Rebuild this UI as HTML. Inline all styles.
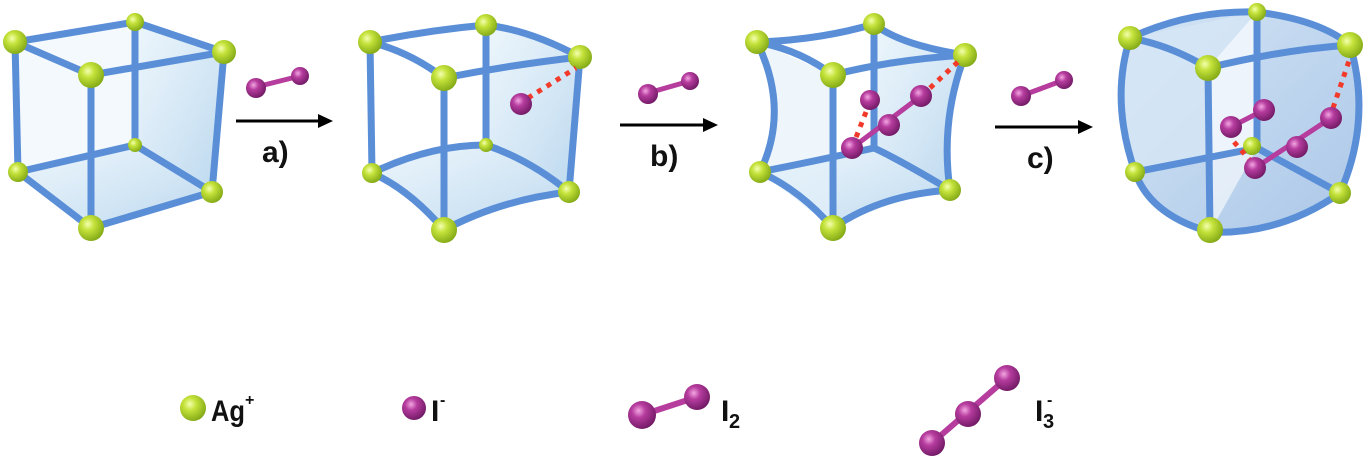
<!DOCTYPE html>
<html><head><meta charset="utf-8"><style>
html,body{margin:0;padding:0;background:#fff;}
svg{display:block;}
text{font-family:"Liberation Sans",Arial,sans-serif;font-weight:bold;fill:#111;}
</style></head><body>
<svg width="1367" height="462" viewBox="0 0 1367 462" xmlns="http://www.w3.org/2000/svg">
<defs>
<radialGradient id="ag" cx="0.38" cy="0.35" r="0.7"><stop offset="0" stop-color="#f4ffb0"/><stop offset="0.35" stop-color="#c4e23a"/><stop offset="1" stop-color="#7fa614"/></radialGradient>
<radialGradient id="io" cx="0.38" cy="0.35" r="0.7"><stop offset="0" stop-color="#f3a6e2"/><stop offset="0.35" stop-color="#b63c9e"/><stop offset="1" stop-color="#6e1862"/></radialGradient>
<linearGradient id="face" x1="0" y1="0" x2="1" y2="1"><stop offset="0" stop-color="#d9ecf8" stop-opacity="0.5"/><stop offset="1" stop-color="#a9cdea" stop-opacity="0.8"/></linearGradient>
<linearGradient id="face4" x1="0" y1="0" x2="1" y2="1"><stop offset="0" stop-color="#c6ddf2"/><stop offset="1" stop-color="#8fb4e0"/></linearGradient>
</defs>

<!-- Cube 1 -->
<g>
<path d="M135,22 L224,52 L212,192 L135,145 Z" fill="url(#face)"/>
<path d="M18,172 L135,145 L212,192 L91,228 Z" fill="url(#face)"/>
<path d="M15,42 L135,22 L135,145 L18,172 Z" fill="#e8f3fb" opacity="0.5"/>
<g stroke="#5a8fd8" stroke-width="7" fill="none" stroke-linecap="round">
<path d="M135,22 L135,145 M18,172 L135,145 L212,192"/>
<path d="M15,42 L135,22 L224,52 L91,75 Z M15,42 L18,172 L91,228 L212,192 L224,52 M91,75 L91,228"/>
</g>
<g fill="url(#ag)"><circle cx="135" cy="22" r="9"/><circle cx="135" cy="145" r="7"/><circle cx="15" cy="42" r="12"/><circle cx="224" cy="52" r="12"/><circle cx="91" cy="75" r="13"/><circle cx="18" cy="172" r="10"/><circle cx="212" cy="192" r="11"/><circle cx="91" cy="228" r="13"/></g>
</g>
<!-- Arrow a -->
<line x1="236" y1="121" x2="322" y2="121" stroke="#000" stroke-width="3"/><path d="M333,121 L318,114 L318,128 Z" fill="#000"/>
<text x="262" y="162" font-size="30">a)</text>
<line x1="256" y1="87" x2="300" y2="76" stroke="#b63c9e" stroke-width="5"/><circle cx="256" cy="88" r="10" fill="url(#io)"/><circle cx="300" cy="76" r="9" fill="url(#io)"/>

<!-- Cube 2 -->
<g>
<path d="M486,25 Q530,30 580,57 L569,192 Q520,160 486,145 Z" fill="url(#face)"/>
<path d="M372,173 Q430,145 486,145 Q530,160 569,192 Q500,200 444,230 Q410,190 372,173 Z" fill="url(#face)"/>
<g stroke="#5a8fd8" stroke-width="7" fill="none" stroke-linecap="round">
<path d="M486,25 L486,145 M372,173 Q430,145 486,145 Q530,160 569,192"/>
<path d="M370,42 Q430,30 486,25 Q530,30 580,57 Q510,65 444,78 Q410,52 370,42 Z M370,42 L372,173 Q410,190 444,230 Q500,200 569,192 L580,57 M444,78 L444,230"/>
</g>
<g fill="url(#ag)"><circle cx="486" cy="25" r="11"/><circle cx="486" cy="145" r="7"/><circle cx="370" cy="42" r="12"/><circle cx="580" cy="57" r="12"/><circle cx="444" cy="78" r="13"/><circle cx="372" cy="173" r="10"/><circle cx="569" cy="192" r="11"/><circle cx="444" cy="230" r="13"/></g>
<line x1="528" y1="98" x2="576" y2="68" stroke="#f23a2a" stroke-width="5" stroke-dasharray="5,6"/>
<circle cx="521" cy="104" r="11" fill="url(#io)"/>
</g>
<!-- Arrow b -->
<line x1="620" y1="125" x2="706" y2="125" stroke="#000" stroke-width="3"/><path d="M718,125 L703,118 L703,132 Z" fill="#000"/>
<text x="650" y="166" font-size="30">b)</text>
<line x1="648" y1="93" x2="690" y2="81" stroke="#b63c9e" stroke-width="5"/><circle cx="648" cy="94" r="10" fill="url(#io)"/><circle cx="690" cy="81" r="9" fill="url(#io)"/>

<!-- Cube 3 -->
<g>
<path d="M874,24 Q900,45 965,55 Q940,120 950,190 Q900,160 874,148 Z" fill="url(#face)"/>
<path d="M760,172 Q820,160 874,148 Q900,160 950,190 Q880,195 833,228 Q800,190 760,172 Z" fill="url(#face)"/>
<path d="M757,42 Q790,110 760,172 L833,228 L833,75 Z" fill="#e2f0fa" opacity="0.6"/>
<g stroke="#5a8fd8" stroke-width="7" fill="none" stroke-linecap="round">
<path d="M874,24 L874,148 M760,172 Q820,160 874,148 Q900,160 950,190"/>
<path d="M757,42 Q820,40 874,24 Q900,45 965,55 Q890,60 833,75 Q800,50 757,42 Z M757,42 Q790,110 760,172 Q800,190 833,228 Q880,195 950,190 Q940,120 965,55 M833,75 L833,228"/>
</g>
<g fill="url(#ag)"><circle cx="874" cy="24" r="11"/><circle cx="757" cy="42" r="12"/><circle cx="965" cy="55" r="12"/><circle cx="833" cy="75" r="13"/><circle cx="760" cy="172" r="11"/><circle cx="950" cy="190" r="11"/><circle cx="833" cy="228" r="13"/></g>
<g stroke="#f23a2a" stroke-width="5" stroke-dasharray="5,6" fill="none"><line x1="930" y1="88" x2="960" y2="60"/><line x1="866" y1="112" x2="855" y2="140"/></g>
<line x1="852" y1="148" x2="921" y2="96" stroke="#b63c9e" stroke-width="5"/>
<g fill="url(#io)"><circle cx="870" cy="100" r="10"/><circle cx="852" cy="148" r="11"/><circle cx="889" cy="125" r="11"/><circle cx="921" cy="96" r="11"/></g>
</g>
<!-- Arrow c -->
<line x1="995" y1="127" x2="1081" y2="127" stroke="#000" stroke-width="3"/><path d="M1093,127 L1078,120 L1078,134 Z" fill="#000"/>
<text x="1027" y="168" font-size="30">c)</text>
<line x1="1021" y1="96" x2="1064" y2="80" stroke="#b63c9e" stroke-width="5"/><circle cx="1021" cy="96" r="10" fill="url(#io)"/><circle cx="1064" cy="80" r="9" fill="url(#io)"/>

<!-- Cube 4 -->
<g>
<path d="M1130,38 Q1190,10 1257,12 Q1320,20 1350,45 Q1372,120 1340,193 Q1280,235 1210,232 Q1150,215 1135,172 Q1110,100 1130,38 Z" fill="url(#face4)" opacity="0.75"/>
<path d="M1257,12 L1257,148 L1135,172 Q1110,100 1130,38 Z" fill="#d6e6f5" opacity="0.8"/>
<path d="M1208,68 L1257,12 L1257,148 L1210,232 Z" fill="#fff" opacity="0.6"/>
<g stroke="#5a8fd8" stroke-width="7" fill="none" stroke-linecap="round">
<path d="M1257,12 L1257,148 M1135,172 L1257,148 L1340,193"/>
<path d="M1130,38 Q1190,10 1257,12 Q1320,20 1350,45 Q1280,50 1208,68 Q1170,45 1130,38 Z M1130,38 Q1110,100 1135,172 Q1150,215 1210,232 Q1280,235 1340,193 Q1372,120 1350,45 M1208,68 L1210,232"/>
</g>
<g fill="url(#ag)"><circle cx="1257" cy="12" r="9"/><circle cx="1130" cy="38" r="12"/><circle cx="1350" cy="45" r="13"/><circle cx="1208" cy="68" r="13"/><circle cx="1135" cy="172" r="10"/><circle cx="1252" cy="146" r="9"/><circle cx="1340" cy="193" r="11"/><circle cx="1210" cy="230" r="13"/></g>
<g stroke="#f23a2a" stroke-width="5" stroke-dasharray="5,6" fill="none"><line x1="1333" y1="108" x2="1350" y2="58"/><line x1="1234" y1="142" x2="1255" y2="166"/></g>
<line x1="1231" y1="127" x2="1264" y2="110" stroke="#b63c9e" stroke-width="5"/>
<line x1="1255" y1="168" x2="1331" y2="118" stroke="#b63c9e" stroke-width="5"/>
<g fill="url(#io)"><circle cx="1231" cy="127" r="11"/><circle cx="1264" cy="110" r="11"/><circle cx="1255" cy="168" r="11"/><circle cx="1297" cy="147" r="11"/><circle cx="1331" cy="118" r="11"/></g>
</g>

<!-- Legend -->
<circle cx="193" cy="408" r="13" fill="url(#ag)"/>
<text x="211" y="421" font-size="30" textLength="34" lengthAdjust="spacingAndGlyphs">Ag</text><text x="245" y="405" font-size="16">+</text>
<circle cx="414" cy="408" r="12" fill="url(#io)"/>
<text x="431" y="421" font-size="30">I</text><text x="440" y="405" font-size="16">-</text>
<line x1="642" y1="415" x2="697" y2="397" stroke="#b63c9e" stroke-width="6"/>
<circle cx="642" cy="415" r="14" fill="url(#io)"/><circle cx="697" cy="397" r="13" fill="url(#io)"/>
<text x="721" y="421" font-size="30">I</text><text x="729" y="428" font-size="20">2</text>
<line x1="932" y1="443" x2="1007" y2="378" stroke="#b63c9e" stroke-width="6"/>
<circle cx="932" cy="443" r="13" fill="url(#io)"/><circle cx="968" cy="414" r="13" fill="url(#io)"/><circle cx="1007" cy="378" r="13" fill="url(#io)"/>
<text x="1035" y="421" font-size="30">I</text><text x="1043" y="428" font-size="20">3</text><text x="1047" y="405" font-size="16">-</text>
</svg>
</body></html>
